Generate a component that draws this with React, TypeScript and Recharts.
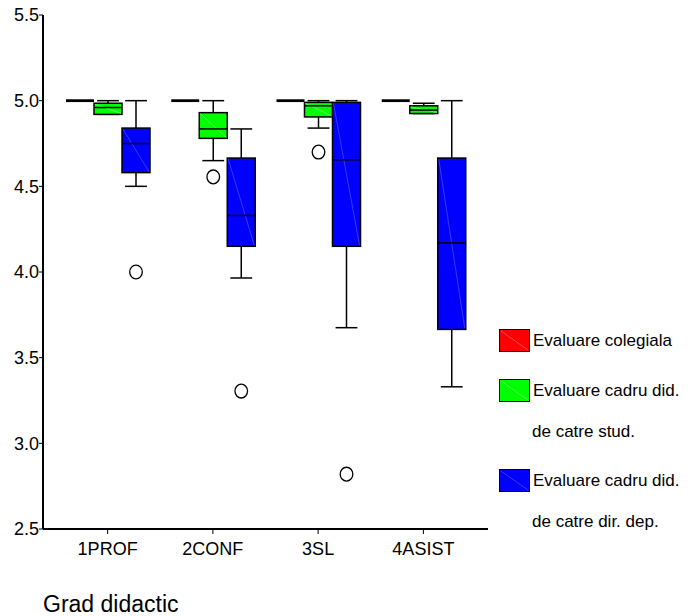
import { ComposedChart, Bar, XAxis, YAxis, Legend } from 'recharts';

const FONT = '"Liberation Sans", Arial, Helvetica, sans-serif';

const categories = ['1PROF', '2CONF', '3SL', '4ASIST'];
const yTicks = [2.5, 3.0, 3.5, 4.0, 4.5, 5.0, 5.5];

// Evaluare colegiala (all at 5.0)
const colegMin = [5.0, 5.0, 5.0, 5.0];
const colegQ1 = [5.0, 5.0, 5.0, 5.0];
const colegMed = [5.0, 5.0, 5.0, 5.0];
const colegQ3 = [5.0, 5.0, 5.0, 5.0];
const colegMax = [5.0, 5.0, 5.0, 5.0];
const colegOut: number[][] = [[], [], [], []];

// Evaluare cadru did. de catre stud.
const studMin = [4.92, 4.65, 4.84, 4.925];
const studQ1 = [4.92, 4.78, 4.905, 4.925];
const studMed = [4.96, 4.835, 4.97, 4.945];
const studQ3 = [4.985, 4.93, 4.99, 4.97];
const studMax = [5.0, 5.0, 5.0, 4.985];
const studOut: number[][] = [[], [4.555], [4.7], []];

// Evaluare cadru did. de catre dir. dep.
const dirMin = [4.5, 3.965, 3.675, 3.33];
const dirQ1 = [4.58, 4.15, 4.15, 3.665];
const dirMed = [4.75, 4.33, 4.655, 4.17];
const dirQ3 = [4.84, 4.665, 4.99, 4.665];
const dirMax = [5.0, 4.835, 5.0, 5.0];
const dirOut: number[][] = [[4.0], [3.305], [2.82], []];

type Stats = { min: number; q1: number; med: number; q3: number; max: number; out: number[] };

const pack = (mn: number[], q1: number[], md: number[], q3: number[], mx: number[], out: number[][], i: number): Stats => ({
  min: mn[i], q1: q1[i], med: md[i], q3: q3[i], max: mx[i], out: out[i],
});

const rows = categories.map((name, i) => ({
  name,
  coleg: pack(colegMin, colegQ1, colegMed, colegQ3, colegMax, colegOut, i),
  stud: pack(studMin, studQ1, studMed, studQ3, studMax, studOut, i),
  dir: pack(dirMin, dirQ1, dirMed, dirQ3, dirMax, dirOut, i),
}));

const series = [
  { key: 'coleg', fill: '#ff0000', diag: '#ff7070', lines: ['Evaluare colegiala'] },
  { key: 'stud', fill: '#00ff00', diag: '#80ff80', lines: ['Evaluare cadru did.', 'de catre stud.'] },
  { key: 'dir', fill: '#0000ff', diag: '#5050ff', lines: ['Evaluare cadru did.', 'de catre dir. dep.'] },
];

function boxShape(key: string, fill: string, diag: string) {
  return (props: any) => {
    const { x, y, width, height, payload } = props;
    const s: Stats = payload[key];
    const top = Math.min(y, y + height);
    const bot = Math.max(y, y + height);
    const span = s.max - s.min;
    const py = (v: number) => (span === 0 ? top : top + ((s.max - v) / span) * (bot - top));
    const cx = x + width / 2;
    const capW = width * 0.78;
    if (span === 0) {
      return <line x1={x} x2={x + width} y1={top} y2={top} stroke="#000" strokeWidth={2.8} />;
    }
    const yMax = py(s.max);
    const yMin = py(s.min);
    const yQ3 = py(s.q3);
    const yQ1 = py(s.q1);
    const yMed = py(s.med);
    const ln = { stroke: '#000', strokeWidth: 1.5 };
    return (
      <g>
        <line x1={cx} x2={cx} y1={yMax} y2={yQ3} {...ln} />
        <line x1={cx} x2={cx} y1={yQ1} y2={yMin} {...ln} />
        <line x1={cx - capW / 2} x2={cx + capW / 2} y1={yMax} y2={yMax} {...ln} />
        <line x1={cx - capW / 2} x2={cx + capW / 2} y1={yMin} y2={yMin} {...ln} />
        <rect x={x} y={yQ3} width={width} height={yQ1 - yQ3} fill={fill} {...ln} />
        <line x1={x + 1} y1={yQ3 + 1} x2={x + width - 1} y2={yQ1 - 1} stroke={diag} strokeWidth={0.7} />
        <line x1={x} x2={x + width} y1={yMed} y2={yMed} {...ln} />
        {s.out.map((v, j) => (
          <ellipse key={j} cx={cx} cy={py(v)} rx={6.3} ry={6.9} fill="none" stroke="#000" strokeWidth={1.3} />
        ))}
      </g>
    );
  };
}

function LegendBox() {
  return (
    <div style={{ fontFamily: FONT, fontSize: 17, color: '#000', whiteSpace: 'nowrap', textAlign: 'left' }}>
      {series.map((s) => (
        <div key={s.key} style={{ height: s.lines.length > 1 ? 90 : 50 }}>
          <div style={{ display: 'flex', alignItems: 'center', height: 23 }}>
            <svg width={31} height={23} style={{ flex: 'none' }}>
              <rect x={0.5} y={0.5} width={30} height={22} fill={s.fill} stroke="#000" strokeWidth={1} />
              <line x1={2} y1={2} x2={29} y2={21} stroke={s.diag} strokeWidth={0.7} />
            </svg>
            <span style={{ marginLeft: 3 }}>{s.lines[0]}</span>
          </div>
          {s.lines.slice(1).map((t) => (
            <div key={t} style={{ marginTop: 12, height: 36, lineHeight: '36px', paddingLeft: 33 }}>{t}</div>
          ))}
        </div>
      ))}
    </div>
  );
}

export default function App() {
  const tickStyle = { fontFamily: FONT, fontSize: 18, fill: '#000' };
  return (
    <div style={{ position: 'absolute', left: 0, top: 0, width: 691, height: 616, overflow: 'hidden', background: '#fff' }}>
      <ComposedChart
        width={691}
        height={616}
        data={rows}
        margin={{ top: 15, right: 203, bottom: 0, left: 0 }}
        barGap={0}
      >
        <XAxis
          dataKey="name"
          height={87}
          interval={0}
          padding={{ left: 12, right: 12 }}
          tick={tickStyle}
          tickSize={5}
          tickMargin={8}
          axisLine={{ stroke: '#000', strokeWidth: 2 }}
          tickLine={{ stroke: '#000' }}
          label={{
            content: ({ viewBox }: any) => (
              <text x={viewBox.x} y={viewBox.y + 83} fontFamily={FONT} fontSize={23} fill="#000">
                Grad didactic
              </text>
            ),
          }}
        />
        <XAxis xAxisId="top" dataKey="name" orientation="top" height={0} tick={false} tickLine={false} axisLine={{ stroke: '#000', strokeWidth: 1.2 }} />
        <YAxis
          domain={[2.5, 5.5]}
          ticks={yTicks}
          allowDataOverflow
          interval={0}
          width={43}
          tick={tickStyle}
          tickSize={4}
          tickMargin={0}
          tickFormatter={(v: number) => v.toFixed(1)}
          axisLine={{ stroke: '#000', strokeWidth: 2 }}
          tickLine={{ stroke: '#000' }}
        />
        <YAxis yAxisId="right" orientation="right" width={0} tick={false} tickLine={false} axisLine={{ stroke: '#000', strokeWidth: 1.2 }} />
        {series.map((s) => (
          <Bar
            key={s.key}
            dataKey={(d: any) => [d[s.key].min, d[s.key].max]}
            barSize={28}
            fill={s.fill}
            shape={boxShape(s.key, s.fill, s.diag)}
            isAnimationActive={false}
          />
        ))}
        <Legend
          layout="horizontal"
          align="center"
          verticalAlign="middle"
          content={() => <LegendBox />}
          wrapperStyle={{ left: 499, top: 329, width: 220 }}
        />
      </ComposedChart>
    </div>
  );
}
